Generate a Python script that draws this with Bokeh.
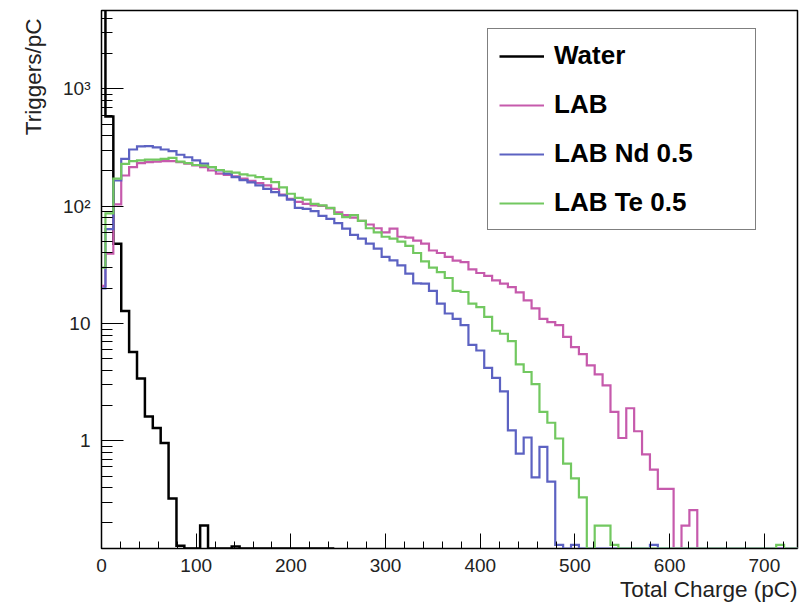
import numpy as np
from bokeh.plotting import figure
from bokeh.models import Range1d, FixedTicker, SingleIntervalTicker, Legend, LegendItem, Title
from bokeh.embed import file_html
from bokeh.resources import INLINE

# ---- data (Triggers/pC per bin, bins centred on multiples of bin_width) ----
bin_width = 750.0 / 90

water = [8000, 583, 48, 12.8, 5.73, 3.40, 1.62, 1.29, 0.96, 0.323,
         0.128, 0, 0, 0.19, 0, 0, 0, 0.126, 0, 0,
         0, 0, 0, 0, 0, 0, 0, 0, 0, 0]

lab = [21, 39.5, 104, 183, 216, 233, 238, 240, 243, 243,
       238, 231, 223, 216, 202, 190, 185, 180, 172, 165,
       158, 151, 141, 126, 116, 109, 105, 102, 101, 96,
       89, 84, 80, 75, 70, 65, 60, 64.5, 55, 54,
       51, 48, 42, 40, 37, 34.5, 33.5, 29, 27, 25.5,
       23.4, 21.9, 20.5, 18.5, 15.8, 13.5, 11, 10.3, 9.7, 7.7,
       6.3, 5.5, 4.4, 3.7, 2.98, 1.77, 1.06, 1.9, 1.21, 0.77,
       0.57, 0.39, 0.39, 0, 0.19, 0.257, 0, 0, 0, 0,
       0, 0, 0, 0, 0, 0, 0, 0, 0, 0]

lab_nd = [20, 64, 166, 254, 305, 324, 326, 318, 305, 295,
          275, 262, 246, 231, 216, 202, 190, 177, 167, 160,
          151, 141, 132, 124, 114, 97, 95, 91, 83, 78,
          72, 64.5, 57, 53, 48, 43.5, 37, 34.6, 31.4, 26.7,
          22, 21.9, 19, 14.8, 12.2, 11, 9.7, 6.6, 5.9, 4.2,
          3.45, 2.65, 1.23, 0.78, 1.07, 0.49, 0.89, 0.45, 0.13, 0,
          0.13, 0, 0, 0, 0, 0, 0, 0, 0, 0,
          0.13, 0, 0, 0, 0, 0, 0, 0, 0, 0,
          0, 0, 0, 0, 0, 0, 0, 0, 0, 0]

lab_te = [30, 87, 172, 230, 243, 246, 250, 250, 254, 259,
          240, 233, 225, 222, 216, 204, 198, 194, 187, 183,
          177, 171, 161, 145, 128, 118, 114, 105, 102, 97,
          86, 81, 84, 75, 65, 60, 55, 53, 50, 46,
          40, 34, 30, 27.5, 24.5, 19, 18.6, 14.8, 13.8, 11.4,
          8.7, 8.2, 7.1, 4.5, 3.87, 3.05, 1.77, 1.43, 1.05, 0.64,
          0.48, 0.33, 0, 0.19, 0.19, 0.13, 0, 0, 0, 0,
          0, 0, 0, 0, 0, 0, 0, 0, 0, 0,
          0, 0, 0, 0, 0, 0, 0.13, 0, 0, 0]

series_names = ["Water", "LAB", "LAB Nd 0.5", "LAB Te 0.5"]
series_colors = ["black", "#c65aac", "#5c62c2", "#72c860"]
series_widths = [2.5, 2.2, 2.2, 2.2]

x_lo, x_hi = 0, 735
y_lo, y_hi = 0.1212, 4665

y_major = [1, 10, 100, 1000]
y_minor = [0.2, 0.3, 0.4, 0.5, 0.6, 0.7, 0.8, 0.9,
           2, 3, 4, 5, 6, 7, 8, 9,
           20, 30, 40, 50, 60, 70, 80, 90,
           200, 300, 400, 500, 600, 700, 800, 900,
           2000, 3000, 4000]
y_labels = {1: "1", 10: "10", 100: "10\u00b2", 1000: "10\u00b3"}

FONT = "Liberation Sans"

p = figure(width=799, height=604,
           x_range=Range1d(x_lo, x_hi), y_range=Range1d(y_lo, y_hi),
           y_axis_type="log", output_backend="svg", toolbar_location=None,
           min_border_left=101, min_border_right=2, min_border_top=10,
           min_border_bottom=56)
p.background_fill_color = "white"
p.border_fill_color = "white"
p.outline_line_color = "black"
p.outline_line_width = 1.5
p.xgrid.visible = False
p.ygrid.visible = False


def step_xy(vals):
    v = np.clip(np.asarray(vals, dtype=float), y_lo, None)
    left = np.arange(len(v)) * bin_width - bin_width / 2
    xs = np.append(left, left[-1] + bin_width)
    ys = np.append(v, v[-1])
    return xs, ys


renderers = []
for vals, col, lw in zip([water, lab, lab_nd, lab_te], series_colors, series_widths):
    xs, ys = step_xy(vals)
    r = p.step(xs, ys, mode="after", line_color=col, line_width=lw, line_join="miter")
    renderers.append(r)

legend = Legend(items=[LegendItem(label=n, renderers=[r]) for n, r in zip(series_names, renderers)],
                location=(386, 318), orientation="vertical",
                border_line_color="black", border_line_width=1,
                background_fill_color="white", background_fill_alpha=1.0,
                label_text_font=FONT, label_text_font_style="bold",
                label_text_font_size="26px", label_text_color="black",
                glyph_width=45, glyph_height=30, label_height=30, label_width=190,
                spacing=18, padding=11, margin=0, label_standoff=10)
p.add_layout(legend)

# axes
xa = p.xaxis[0]
xa.ticker = SingleIntervalTicker(interval=100, num_minor_ticks=5)
xa.major_tick_in = 15
xa.major_tick_out = 0
xa.minor_tick_in = 7
xa.minor_tick_out = 0
xa.major_label_standoff = 10

ya = p.yaxis[0]
ya.ticker = FixedTicker(ticks=y_major, minor_ticks=y_minor)
ya.major_label_overrides = y_labels
ya.major_tick_in = 22
ya.major_tick_out = 0
ya.minor_tick_in = 11
ya.minor_tick_out = 0
ya.major_label_standoff = 11

for ax in (xa, ya):
    ax.axis_line_color = "black"
    ax.axis_line_width = 1
    ax.major_tick_line_color = "black"
    ax.minor_tick_line_color = "black"
    ax.major_label_text_font = FONT
    ax.major_label_text_font_size = "19px"
    ax.major_label_text_color = "#222222"

xt = Title(text="Total Charge (pC)", align="right", text_font=FONT,
           text_font_size="22.5px", text_font_style="normal", text_color="#222222",
           standoff=0, offset=0)
p.add_layout(xt, "below")
yt = Title(text="Triggers/pC", align="right", text_font=FONT,
           text_font_size="22.5px", text_font_style="normal", text_color="#222222",
           standoff=30, offset=8)
p.add_layout(yt, "left")

open("out.html", "w").write(file_html(p, INLINE))
